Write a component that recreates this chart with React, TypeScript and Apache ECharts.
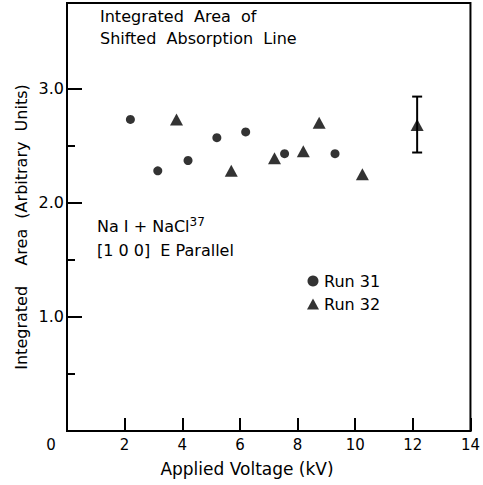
import React, { useEffect, useRef } from "react";
import * as echarts from "echarts";

const FONT = "DejaVu Sans";

// Run 31 (circles)
const run31X = [2.2, 3.15, 4.2, 5.2, 6.2, 7.55, 9.3];
const run31Y = [2.73, 2.28, 2.37, 2.57, 2.62, 2.43, 2.43];
// Run 32 (triangles)
const run32X = [3.8, 5.7, 7.2, 8.2, 8.75, 10.25, 12.15];
const run32Y = [2.73, 2.28, 2.39, 2.45, 2.7, 2.25, 2.68];
// Error bar on the last Run 32 point
const errX = [12.15];
const errLow = [2.44];
const errHigh = [2.93];

const xTicks = [0, 2, 4, 6, 8, 10, 12, 14];
const yMajorTicks = [0, 1, 2, 3];
const yMajorLabels = ["", "1.0", "2.0", "3.0"];
const yMinorTicks = [0.5, 1.5, 2.5];

export default function App() {
  const ref = useRef<HTMLDivElement>(null);
  useEffect(() => {
    document.body.style.margin = "0";
    if (!ref.current) return;
    const chart = echarts.init(ref.current, null, { renderer: "svg" });
    const black = "#000";
    const yMax = 3.75;
    chart.setOption({
      animation: false,
      backgroundColor: "#fff",
      grid: {
        left: 67,
        right: 9,
        top: 3,
        bottom: 54,
        show: true,
        borderColor: black,
        borderWidth: 2,
        backgroundColor: "transparent",
      },
      legend: {
        orient: "vertical",
        left: 302,
        top: 267,
        itemWidth: 12,
        itemHeight: 11,
        itemGap: 5,
        textStyle: { fontFamily: FONT, fontSize: 16, color: black, lineHeight: 18 },
        data: ["Run 31", "Run 32"],
      },
      xAxis: {
        type: "value",
        min: xTicks[0],
        max: xTicks[xTicks.length - 1],
        interval: 2,
        axisLine: { show: true, lineStyle: { color: black, width: 2 } },
        axisTick: { show: true, inside: true, length: 13, lineStyle: { color: black, width: 2 } },
        splitLine: { show: false },
        axisLabel: {
          color: black,
          fontFamily: FONT,
          fontSize: 15,
          margin: 6,
          formatter: (v: number) => (v === 0 ? "{z|0}" : String(v)),
          rich: {
            z: { fontFamily: FONT, fontSize: 15, color: black, padding: [0, 32, 0, 0] },
          },
        },
      },
      yAxis: [
        {
          type: "value",
          min: 0,
          max: yMax,
          axisLine: { show: true, lineStyle: { color: black, width: 2 } },
          axisTick: {
            show: true,
            inside: true,
            length: 15,
            customValues: yMajorTicks,
            lineStyle: { color: black, width: 2 },
          },
          splitLine: { show: false },
          axisLabel: {
            color: black,
            fontFamily: FONT,
            fontSize: 16,
            margin: 3,
            customValues: yMajorTicks,
            formatter: (v: number) => yMajorLabels[yMajorTicks.indexOf(Math.round(v))] ?? "",
          },
        },
        {
          type: "value",
          min: 0,
          max: yMax,
          position: "left",
          axisLine: { show: false },
          axisTick: {
            show: true,
            inside: true,
            length: 8,
            customValues: yMinorTicks,
            lineStyle: { color: black, width: 2 },
          },
          axisLabel: { show: false },
          splitLine: { show: false },
        },
      ],
      series: [
        {
          type: "custom",
          name: "err",
          z: 1,
          data: errX.map((x, i) => [x, errLow[i], errHigh[i]]),
          renderItem: (params: any, api: any) => {
            const x = api.value(0);
            const lo = api.coord([x, api.value(1)]);
            const hi = api.coord([x, api.value(2)]);
            const hw = 5;
            const st = { stroke: black, lineWidth: 2 };
            return {
              type: "group",
              children: [
                { type: "line", shape: { x1: lo[0], y1: lo[1], x2: hi[0], y2: hi[1] }, style: st },
                { type: "line", shape: { x1: lo[0] - hw, y1: lo[1], x2: lo[0] + hw, y2: lo[1] }, style: st },
                { type: "line", shape: { x1: hi[0] - hw, y1: hi[1], x2: hi[0] + hw, y2: hi[1] }, style: st },
              ],
            };
          },
        },
        {
          type: "scatter",
          name: "Run 31",
          symbol: "circle",
          symbolSize: 9,
          z: 3,
          itemStyle: { color: black },
          data: run31X.map((x, i) => [x, run31Y[i]]),
        },
        {
          type: "scatter",
          name: "Run 32",
          symbol: "triangle",
          symbolSize: [13, 12],
          z: 3,
          itemStyle: { color: black },
          data: run32X.map((x, i) => [x, run32Y[i]]),
        },
      ],
      graphic: [
        {
          type: "text",
          x: 100,
          y: 16,
          style: { text: "Integrated  Area  of", fontFamily: FONT, fontSize: 16, fill: black, verticalAlign: "middle" },
        },
        {
          type: "text",
          x: 100,
          y: 38,
          style: { text: "Shifted  Absorption  Line", fontFamily: FONT, fontSize: 16, fill: black, verticalAlign: "middle" },
        },
        {
          type: "text",
          x: 97,
          y: 226,
          style: {
            text: "Na I + NaCl{sup|37}",
            fontFamily: FONT,
            fontSize: 16,
            fill: black,
            verticalAlign: "middle",
            rich: {
              sup: { fontFamily: FONT, fontSize: 12, fill: black, padding: [0, 0, 8, 0] },
            },
          },
        },
        {
          type: "text",
          x: 97,
          y: 250,
          style: { text: "[1 0 0]  E Parallel", fontFamily: FONT, fontSize: 16, fill: black, verticalAlign: "middle" },
        },
        {
          type: "text",
          x: 21,
          y: 227,
          rotation: Math.PI / 2,
          style: {
            text: "Integrated    Area  (Arbitrary  Units)",
            fontFamily: FONT,
            fontSize: 16,
            fill: black,
            align: "center",
            verticalAlign: "middle",
          },
        },
        {
          type: "text",
          x: 247,
          y: 469,
          style: {
            text: "Applied Voltage (kV)",
            fontFamily: FONT,
            fontSize: 17,
            fill: black,
            align: "center",
            verticalAlign: "middle",
          },
        },
      ],
    });
    return () => chart.dispose();
  }, []);
  return <div ref={ref} style={{ width: 483, height: 485 }} />;
}
